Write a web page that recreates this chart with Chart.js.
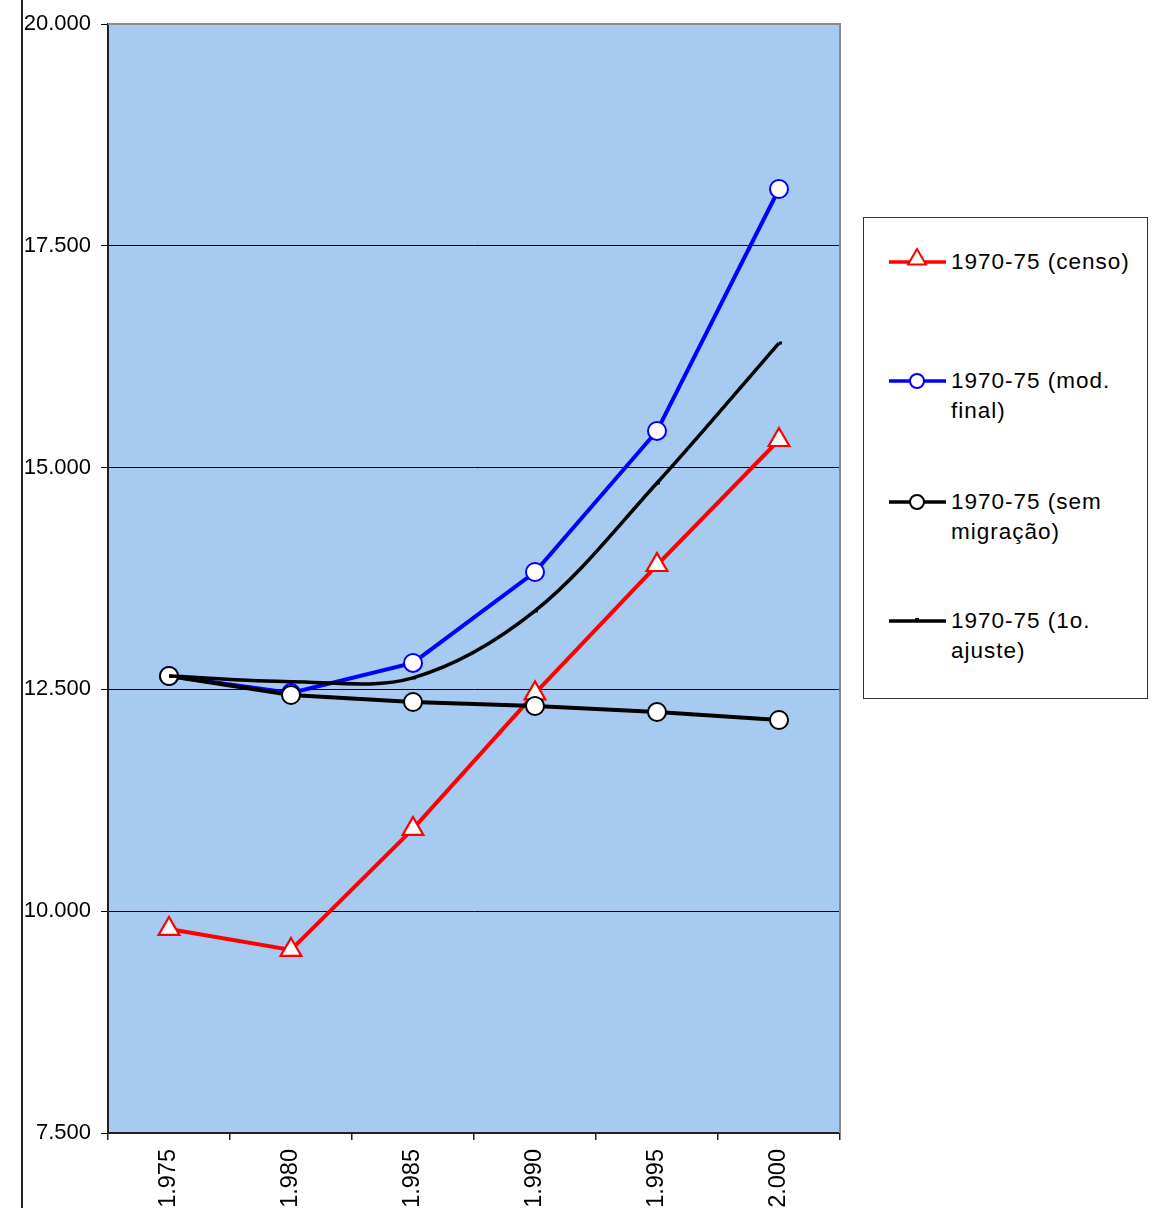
<!DOCTYPE html>
<html>
<head>
<meta charset="utf-8">
<script src="https://cdn.jsdelivr.net/npm/chart.js@4"></script>
<style>
  html, body { margin: 0; padding: 0; background: #fff; overflow: hidden; }
  #wrap { position: relative; width: 1152px; height: 1208px; overflow: hidden; }
  #frameLine { position: absolute; left: 21px; top: 0; width: 2px; height: 1208px; background: #222; }
  canvas { position: absolute; left: 0; top: 0; }
  #legend {
    position: absolute; left: 863px; top: 217px; width: 283px; height: 480px;
    border: 1px solid #333; background: #fff;
    font-family: "Liberation Sans", Arial, sans-serif; font-size: 22.5px; letter-spacing: 1px; color: #000;
  }
  .item { position: absolute; left: 0; width: 283px; }
  .item svg { position: absolute; left: 24px; top: 0; }
  .item span { position: absolute; left: 87px; width: 192px; line-height: 30px; top: 0; }
</style>
</head>
<body>
<div id="wrap">
  <div id="frameLine"></div>
  <canvas id="chart" width="1152" height="1240"></canvas>
  <div id="legend"></div>
</div>
<script>
'use strict';

// categories and series
const years = ['1.975', '1.980', '1.985', '1.990', '1.995', '2.000'];
const censo = [9800, 9563, 10927, 12455, 13902, 15311];
const modFinal = [12650, 12459, 12798, 13823, 15413, 18140];
const semMigracao = [12651, 12437, 12358, 12313, 12245, 12155];
const ajuste = [12650, 12587, 12630, 13384, 14826, 16404];
const yTicks = [7500, 10000, 12500, 15000, 17500, 20000];

const seriesNames = ['1970-75 (censo)', '1970-75 (mod. final)', '1970-75 (sem migração)', '1970-75 (1o. ajuste)'];

// plot area background + gray border on top/right
const plotFrame = {
    id: 'plotFrame',
    beforeDraw(chart) {
        const { ctx, chartArea: a } = chart;
        ctx.save();
        ctx.fillStyle = '#A6CAF0';
        ctx.fillRect(a.left, a.top, a.right - a.left, a.bottom - a.top);
        ctx.restore();
    },
    beforeDatasetsDraw(chart) {
        const { ctx, chartArea: a } = chart;
        ctx.save();
        ctx.strokeStyle = '#8a8a8a';
        ctx.lineWidth = 2;
        ctx.beginPath();
        ctx.moveTo(a.left, a.top);
        ctx.lineTo(a.right, a.top);
        ctx.lineTo(a.right, a.bottom);
        ctx.stroke();
        ctx.restore();
    }
};

const yFont = { family: '"Liberation Sans", Arial, sans-serif', size: 22 };
const xFont = { family: '"Liberation Sans", Arial, sans-serif', size: 23.5 };

new Chart(document.getElementById('chart'), {
    type: 'line',
    data: {
        labels: years,
        datasets: [
            {
                label: seriesNames[0], data: censo, order: 4,
                borderColor: '#FF0000', borderWidth: 4, tension: 0,
                pointStyle: 'triangle', pointRadius: 12, pointBorderWidth: 2.2,
                pointBackgroundColor: '#fff', pointBorderColor: '#FF0000'
            },
            {
                label: seriesNames[1], data: modFinal, order: 3,
                borderColor: '#0000FF', borderWidth: 4, tension: 0,
                pointStyle: 'circle', pointRadius: 9, pointBorderWidth: 2,
                pointBackgroundColor: '#fff', pointBorderColor: '#0000FF'
            },
            {
                label: seriesNames[2], data: semMigracao, order: 2,
                borderColor: '#000', borderWidth: 4, tension: 0,
                pointStyle: 'circle', pointRadius: 9, pointBorderWidth: 2,
                pointBackgroundColor: '#fff', pointBorderColor: '#000'
            },
            {
                label: seriesNames[3], data: ajuste, order: 1,
                borderColor: '#000', borderWidth: 3.5, tension: 0.33,
                pointStyle: 'dash', pointRadius: 3, pointBorderWidth: 3,
                pointBackgroundColor: '#000', pointBorderColor: '#000'
            }
        ]
    },
    options: {
        responsive: false,
        animation: false,
        layout: { padding: { top: 24, right: 312, bottom: 0, left: 0 } },
        plugins: { legend: { display: false }, tooltip: { enabled: false } },
        scales: {
            x: {
                offset: true,
                grid: { offset: true, drawOnChartArea: false, drawTicks: true, tickLength: 7, color: '#222', lineWidth: 1.5 },
                border: { color: '#222', width: 2 },
                ticks: { color: '#000', font: xFont, minRotation: 90, maxRotation: 90, padding: 9, autoSkip: false },
                afterFit(scale) { scale.height = 107; }
            },
            y: {
                min: 7500, max: 20000,
                afterBuildTicks(scale) { scale.ticks = yTicks.map(v => ({ value: v })); },
                grid: { color: '#000', lineWidth: 1, tickLength: 7 },
                border: { color: '#222', width: 2 },
                ticks: {
                    color: '#000', font: yFont, padding: 10,
                    callback: v => String(v).replace(/(\d+)(\d{3})$/, '$1.$2')
                },
                afterFit(scale) { scale.width = 108; }
            }
        }
    },
    plugins: [plotFrame]
});

// html legend
const legendTops = [29, 148, 269, 388];
const markerSvgs = [
    '<polygon points="29,2 38,17.5 20,17.5" fill="#fff" stroke="#FF0000" stroke-width="2"/>',
    '<circle cx="29" cy="15" r="7" fill="#fff" stroke="#0000FF" stroke-width="2"/>',
    '<circle cx="29" cy="15" r="7" fill="#fff" stroke="#000" stroke-width="2"/>',
    '<rect x="27" y="12" width="4" height="2" fill="#000"/>'
];
const lineColors = ['#FF0000', '#0000FF', '#000', '#000'];
const legend = document.getElementById('legend');
seriesNames.forEach((name, i) => {
    const item = document.createElement('div');
    item.className = 'item';
    item.style.top = legendTops[i] + 'px';
    item.innerHTML = `
        <svg width="60" height="30" viewBox="0 0 60 30">
            <line x1="1" y1="15" x2="58" y2="15" stroke="${lineColors[i]}" stroke-width="3.6"/>
            ${markerSvgs[i]}
        </svg>
        <span>${name}</span>`;
    legend.appendChild(item);
});
</script>
</body>
</html>
